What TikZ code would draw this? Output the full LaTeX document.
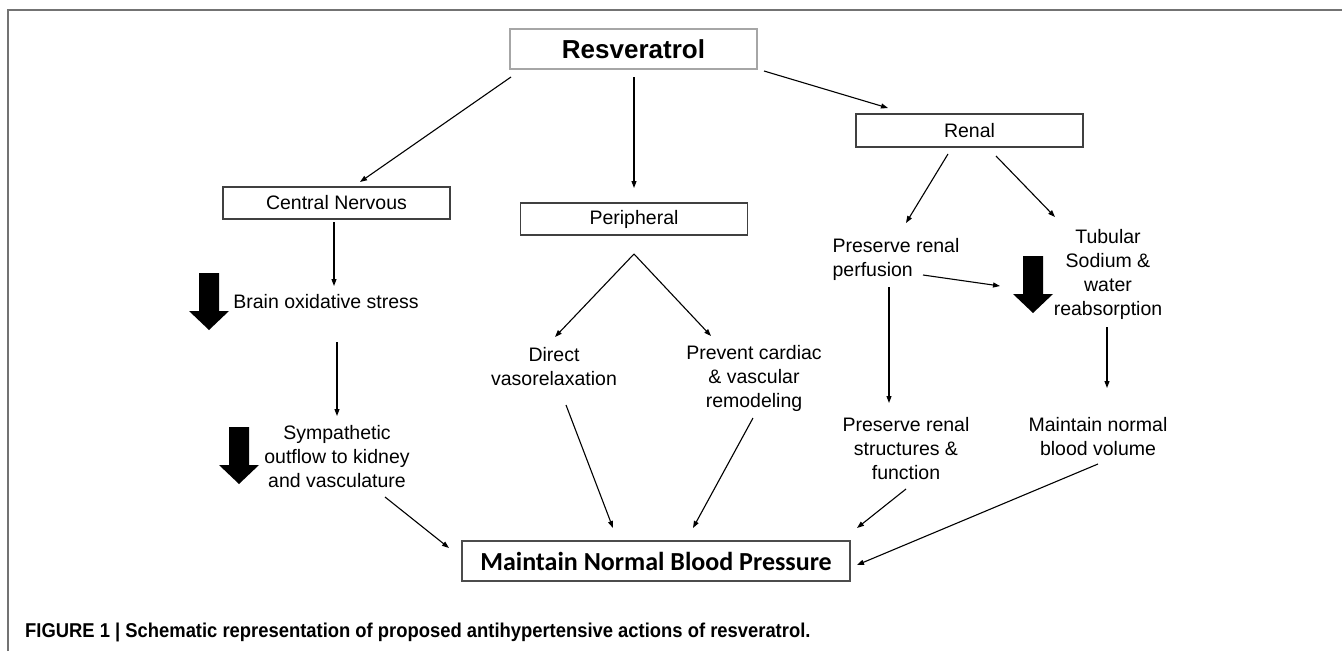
\documentclass[tikz,border=0pt]{standalone}
\usepackage{fontspec}
\setmainfont{Liberation Sans}
\newfontfamily\calibri{Carlito}
\usepackage{graphicx}
\usetikzlibrary{arrows.meta,calc}
\tikzset{>={Triangle[length=7pt,width=5pt]}}

\begin{document}
\begin{tikzpicture}[x=1pt,y=-1pt,
    box/.style={draw=black!75,line width=1.5pt,minimum width=227pt,minimum height=32pt,inner sep=0pt,font=\fontsize{19.5}{24}\selectfont},
    lbl/.style={align=center,inner sep=0pt,font=\fontsize{19.5}{24}\selectfont},
    link/.style={->,line width=1.1pt},
    bigdown/.pic={\fill (-10,0) -- (10,0) -- (10,38) -- (20,38) -- (0,57) -- (-20,38) -- (-10,38) -- cycle;}]
\useasboundingbox (0,0) rectangle (1342,651);
\draw[black!55,line width=2pt] (8,651) -- (8,10) -- (1342,10);
% boxes
\node[box,draw=black!35,line width=1.2pt,minimum width=247pt,minimum height=40pt,font=\fontsize{26}{30}\selectfont\bfseries] (resv) at (633.5,49) {Resveratrol};
\node[box] (cns) at (336.5,203) {Central Nervous};
\node[box] (peri) at (634,219) {Peripheral};
\node[box,minimum height=33pt] (renal) at (969.5,130.5) {Renal};
\node[box,draw=black!70,minimum width=388pt,minimum height=40pt,font=\fontsize{26}{30}\selectfont\calibri\bfseries] (mbp) at (656,561) {Maintain Normal Blood Pressure};
% effects
\node[lbl] (brain) at (326,302) {Brain oxidative stress};
\node[lbl] (symp) at (337,457) {Sympathetic\\outflow to kidney\\and vasculature};
\node[lbl] (direct) at (554,367) {Direct\\vasorelaxation};
\node[lbl] (prevent) at (754,378) {Prevent cardiac\\\& vascular\\remodeling};
\node[lbl,align=left] (perf) at (896,259.5) {Preserve renal\\perfusion};
\node[lbl] (tub) at (1108,274) {Tubular\\Sodium \&\\water\\reabsorption};
\node[lbl] (struct) at (906,449) {Preserve renal\\structures \&\\function};
\node[lbl] (vol) at (1098,437) {Maintain normal\\blood volume};
% decrease
\pic at (209,273) {bigdown};
\pic at (239,427) {bigdown};
\pic at (1033,256) {bigdown};
% links
\draw[link] ($(resv)+(-122.5,28)$) -- ($(cns)+(23.5,-21)$);
\draw[link] ($(resv)+(0.5,28)$) -- ($(peri)+(0,-31)$);
\draw[link] ($(resv)+(130.5,22)$) -- ($(renal)+(-81.5,-22.5)$);
\draw[link] ($(cns)+(-2.5,19)$) -- ($(brain)+(8,-16)$);
\draw[link] ($(brain)+(11,40)$) -- ($(symp)+(0,-41)$);
\draw[link] ($(symp)+(48,40)$) -- ($(mbp)+(-207,-13)$);
\draw[link] ($(peri)+(0,35)$) -- ($(direct)+(1,-30)$);
\draw[link] ($(peri)+(0,35)$) -- ($(prevent)+(-43,-42)$);
\draw[link] ($(direct)+(12,38)$) -- ($(mbp)+(-43,-33)$);
\draw[link] ($(prevent)+(-1,40)$) -- ($(mbp)+(37,-33)$);
\draw[link] ($(renal)+(-21.5,23.5)$) -- ($(perf)+(10,-36.5)$);
\draw[link] ($(renal)+(26.5,25.5)$) -- ($(tub)+(-53,-57)$);
\draw[link] ($(perf)+(27,15.5)$) -- ($(tub)+(-108,12)$);
\draw[link] ($(perf)+(-7,27.5)$) -- ($(struct)+(-17,-46)$);
\draw[link] ($(tub)+(-1,53)$) -- ($(vol)+(9,-49)$);
\draw[link] ($(struct)+(0,40)$) -- ($(mbp)+(201,-33)$);
\draw[link] ($(vol)+(0,27)$) -- ($(mbp)+(201,4)$);
% caption
\node[anchor=west,inner sep=0pt,font=\fontsize{20}{24}\selectfont\bfseries] (cap) at (25,632) {\scalebox{0.92}[1]{FIGURE 1 | Schematic representation of proposed antihypertensive actions of resveratrol.}};
\end{tikzpicture}
\end{document}
